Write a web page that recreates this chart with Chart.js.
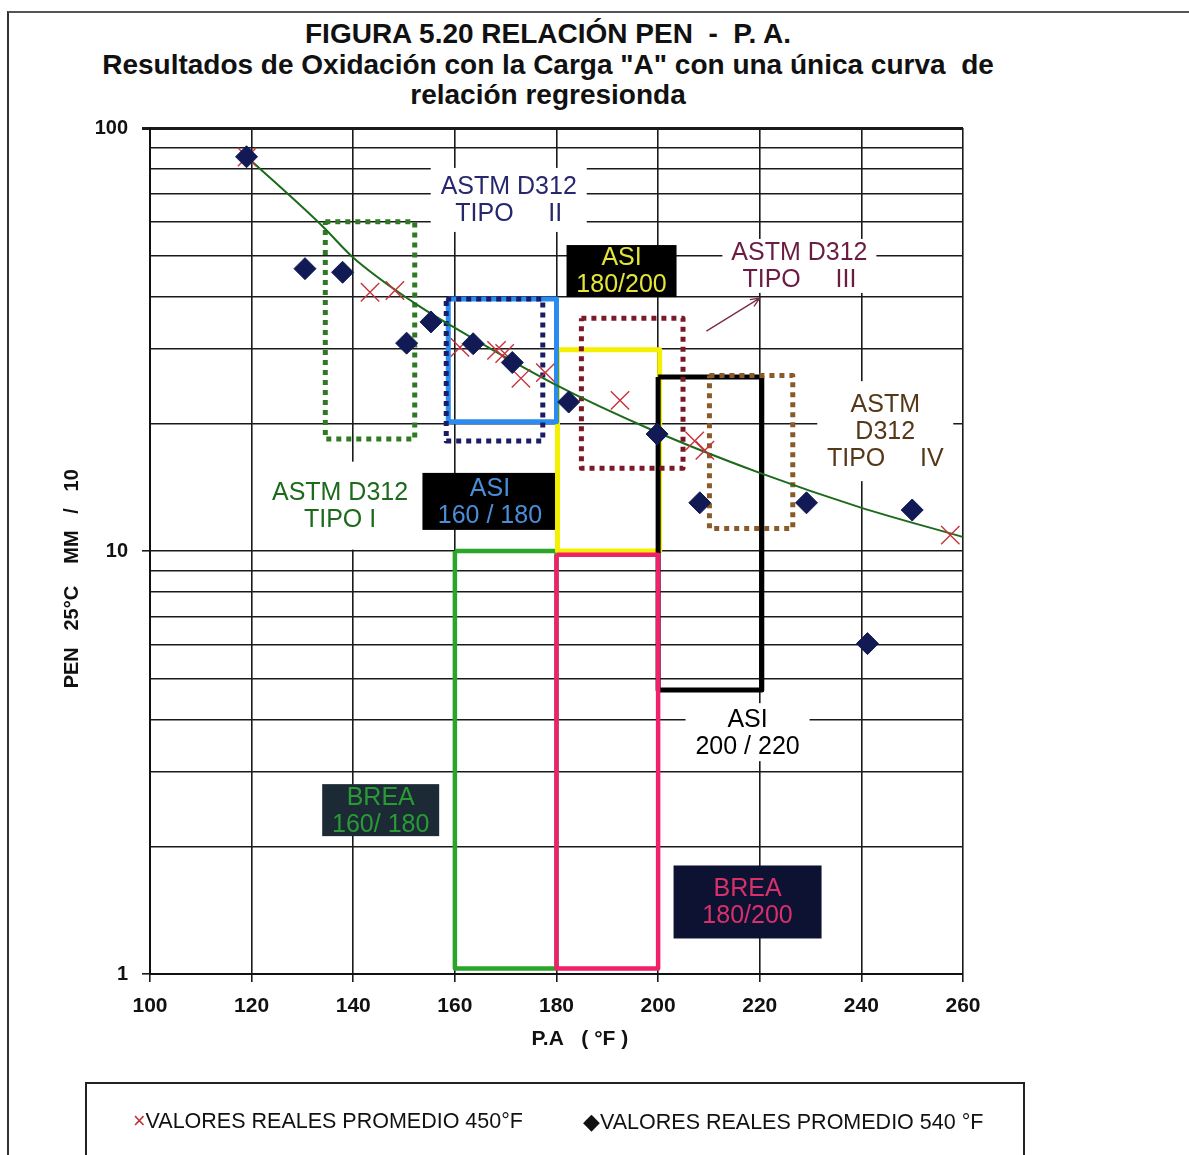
<!DOCTYPE html>
<html lang="es">
<head>
<meta charset="utf-8">
<title>Figura 5.20 Relación PEN - P.A.</title>
<script src="https://cdn.jsdelivr.net/npm/chart.js@4.4.1/dist/chart.umd.min.js"></script>
<style>
  html, body { margin: 0; padding: 0; background: #fff; }
  #wrap { position: relative; width: 1189px; height: 1155px; overflow: hidden; }
  #frame { position: absolute; left: 7px; top: 11px; width: 1300px; height: 1300px;
           border-left: 2px solid #333; border-top: 2px solid #555; }
  #title { position: absolute; left: 0; top: 19px; width: 1096px; text-align: center;
           font: bold 28px "Liberation Sans", Arial, sans-serif; line-height: 30.5px; color: #111; }
  #chart { position: absolute; left: 0; top: 0; }
  #legend { position: absolute; left: 85px; top: 1082px; width: 936px; height: 120px;
            border: 2px solid #222; font: 21.5px "Liberation Sans", Arial, sans-serif; color: #111; }
  #legend span { position: absolute; top: 25px; white-space: nowrap; }
  .mk-x { color: #c0303a; }
</style>
</head>
<body>
<div id="wrap">
  <div id="frame"></div>
  <div id="title">FIGURA 5.20 RELACIÓN PEN&nbsp; - &nbsp;P. A.<br>Resultados de Oxidación con la Carga "A" con una única curva&nbsp; de<br>relación regresionda</div>
  <canvas id="chart" width="1189" height="1155"></canvas>
  <div id="legend">
    <span style="left:46px"><span class="mk-x" style="position:static">×</span>VALORES REALES PROMEDIO 450°F</span>
    <span style="left:496px">◆VALORES REALES PROMEDIO 540 °F</span>
  </div>
</div>
<script>
"use strict";

// ----- data ---------------------------------------------------------------- //
const Y_TICKS = [1, 2, 3, 4, 5, 6, 7, 8, 9, 10, 20, 30, 40, 50, 60, 70, 80, 90, 100];
const Y_LABELED = [1, 10, 100];

// valores reales promedio 450°F (crosses)
const CROSS_X = [119.1, 143.3, 148.2, 161.0, 168.2, 169.8, 173.0, 177.8, 192.5, 207.2, 209.2, 257.5];
const CROSS_Y = [85.4, 40.9, 41.3, 30.3, 29.8, 29.3, 25.6, 26.4, 22.7, 18.2, 17.3, 10.9];

// valores reales promedio 540°F (diamonds)
const DIAMOND_X = [119.0, 130.5, 137.9, 150.5, 155.3, 163.6, 171.3, 182.4, 199.8, 208.2, 229.2, 241.2, 250.0];
const DIAMOND_Y = [85.5, 46.5, 45.6, 31.0, 34.8, 30.9, 27.9, 22.5, 18.9, 13.0, 13.0, 6.04, 12.5];

// curva de regresión única
const CURVE_X = [119.1, 134.0, 139.9, 151.7, 159.6, 179.3, 198.9, 220.0, 239.6, 259.9];
const CURVE_Y = [85.4, 58.5, 49.5, 38.8, 33.9, 24.9, 19.3, 15.3, 12.7, 10.8];

// spec boxes: [x from, x to, PEN low, PEN high]
const BOX_ASTM_I   = [134.5, 152.1, 18.4, 60.0];
const BOX_ASTM_II  = [158.3, 177.3, 18.2, 39.4];
const BOX_ASTM_III = [184.9, 204.9, 15.7, 35.5];
const BOX_ASTM_IV  = [210.1, 226.5, 11.3, 26.0];
const BOX_ASI_160  = [158.7, 180.0, 20.2, 39.4];
const BOX_ASI_180  = [180.2, 200.3, 10.0, 29.9];
const BOX_ASI_200  = [200.0, 220.4, 4.69, 25.8];
const BOX_BREA_160 = [160.0, 180.0, 1.03, 10.0];
const BOX_BREA_180 = [180.0, 200.0, 1.03, 9.8];

// ----- helpers ------------------------------------------------------------- //
const FONT = '"Liberation Sans", Arial, sans-serif';

function points(xs, ys) {
  return xs.map((x, i) => ({ x, y: ys[i] }));
}

function rectPath(b) {
  const [x0, x1, y0, y1] = b;
  return [{ x: x0, y: y1 }, { x: x1, y: y1 }, { x: x1, y: y0 }, { x: x0, y: y0 }, { x: x0, y: y1 }];
}

function boxSet(b, color, width, dotted) {
  return {
    data: rectPath(b),
    showLine: true,
    pointRadius: 0,
    borderColor: color,
    borderWidth: width,
    borderDash: dotted ? [5, 5] : [],
    borderJoinStyle: "round",
    fill: false,
  };
}

// text boxes anchored in data units (x, PEN); w/h in pixels
const LABELS = [
  { text: ["ASTM D312", "TIPO     II"], x: 170.6, y: 67.6, w: 156, h: 64, color: "#27286c", bg: "#fff" },
  { text: ["ASI", "180/200"], x: 192.8, y: 45.9, w: 110, h: 52, color: "#e4e43a", bg: "#000" },
  { text: ["ASTM D312", "TIPO     III"], x: 227.8, y: 47.2, w: 154, h: 54, color: "#6a1c42", bg: "#fff" },
  { text: ["ASTM", "D312", "TIPO     IV"], x: 244.7, y: 19.2, w: 136, h: 100, color: "#553818", bg: "#fff" },
  { text: ["ASTM D312", "TIPO I"], x: 137.4, y: 12.8, w: 152, h: 88, color: "#1d6a1d", bg: "#fff" },
  { text: ["ASI", "160 / 180"], x: 166.9, y: 13.1, w: 135, h: 57, color: "#4a8ed8", bg: "#000" },
  { text: ["ASI", "200 / 220"], x: 217.6, y: 3.73, w: 124, h: 58, color: "#000", bg: "#fff" },
  { text: ["BREA", "160/ 180"], x: 145.4, y: 2.44, w: 117, h: 52, color: "#2a9a35", bg: "#1c2a36" },
  { text: ["BREA", "180/200"], x: 217.6, y: 1.48, w: 148, h: 73, color: "#d8306a", bg: "#0e1232" },
];

const labelPlugin = {
  id: "boxLabels",
  beforeDatasetsDraw(chart) {
    const { ctx, scales: { x, y } } = chart;
    ctx.save();
    ctx.font = "25px " + FONT;
    ctx.textAlign = "center";
    ctx.textBaseline = "middle";
    for (const l of LABELS) {
      const cx = x.getPixelForValue(l.x);
      const cy = y.getPixelForValue(l.y);
      ctx.fillStyle = l.bg;
      ctx.fillRect(cx - l.w / 2, cy - l.h / 2, l.w, l.h);
      ctx.fillStyle = l.color;
      l.text.forEach((t, i) => ctx.fillText(t, cx, cy + (i - (l.text.length - 1) / 2) * 27 + 1));
    }
    ctx.restore();
  },
  afterDatasetsDraw(chart) {
    // arrow pointing to ASTM D312 TIPO III
    const { ctx, scales: { x, y } } = chart;
    const x0 = x.getPixelForValue(209.5), y0 = y.getPixelForValue(33.1);
    const x1 = x.getPixelForValue(220.0), y1 = y.getPixelForValue(39.6);
    const a = Math.atan2(y1 - y0, x1 - x0);
    ctx.save();
    ctx.strokeStyle = "#7a2a4a";
    ctx.lineWidth = 1.3;
    ctx.beginPath();
    ctx.moveTo(x0, y0); ctx.lineTo(x1, y1);
    ctx.moveTo(x1 - 10 * Math.cos(a - 0.4), y1 - 10 * Math.sin(a - 0.4));
    ctx.lineTo(x1, y1);
    ctx.lineTo(x1 - 10 * Math.cos(a + 0.4), y1 - 10 * Math.sin(a + 0.4));
    ctx.stroke();
    ctx.restore();
  },
};

// ----- chart --------------------------------------------------------------- //
// bottom-most first
const layers = [
  boxSet(BOX_BREA_160, "#2aa52a", 4.5, false),
  boxSet(BOX_ASI_180, "#f4f000", 5, false),
  boxSet(BOX_ASI_160, "#2a8cf0", 5, false),
  boxSet(BOX_ASI_200, "#000", 5, false),
  boxSet(BOX_BREA_180, "#f0206a", 4.5, false),
  boxSet(BOX_ASTM_I, "#2e7a22", 5, true),
  boxSet(BOX_ASTM_II, "#1a1c68", 5, true),
  boxSet(BOX_ASTM_III, "#7a1a28", 5, true),
  boxSet(BOX_ASTM_IV, "#8a5a2a", 5, true),
  {
    data: points(CURVE_X, CURVE_Y),
    showLine: true,
    pointRadius: 0,
    borderColor: "#1b6b1b",
    borderWidth: 2,
    cubicInterpolationMode: "monotone",
  },
  {
    label: "VALORES REALES PROMEDIO 450°F",
    data: points(CROSS_X, CROSS_Y),
    pointStyle: "crossRot",
    pointRadius: 13,
    borderColor: "#c8323c",
    borderWidth: 1.4,
  },
  {
    label: "VALORES REALES PROMEDIO 540 °F",
    data: points(DIAMOND_X, DIAMOND_Y),
    pointStyle: "rectRot",
    pointRadius: 11,
    backgroundColor: "#111a55",
    borderColor: "#111a55",
    borderWidth: 1,
  },
];
layers.forEach((d, i) => { d.order = layers.length - i; });

Chart.defaults.font.family = FONT;
Chart.defaults.color = "#111";

new Chart(document.getElementById("chart"), {
  type: "scatter",
  data: { datasets: layers },
  plugins: [labelPlugin],
  options: {
    responsive: false,
    animation: false,
    events: [],
    layout: { padding: { left: 55, right: 226, top: 128, bottom: 101 } },
    plugins: { legend: { display: false }, tooltip: { enabled: false } },
    scales: {
      x: {
        type: "linear",
        min: 100,
        max: 260,
        afterFit: s => { s.height = 80; },
        ticks: { stepSize: 20, font: { size: 21, weight: "bold" }, padding: 12, color: "#111" },
        grid: { color: "#1a1a1a", lineWidth: 1.6, tickLength: 8, tickColor: "#1a1a1a" },
        border: { color: "#111", width: 2 },
        title: { display: true, text: "        P.A   ( °F )", font: { size: 21, weight: "bold" },
                 padding: { top: 0, bottom: 2 }, color: "#111" },
      },
      y: {
        type: "logarithmic",
        min: 1,
        max: 100,
        afterFit: s => { s.width = 95; },
        afterBuildTicks: s => { s.ticks = Y_TICKS.map(v => ({ value: v })); },
        ticks: {
          autoSkip: false,
          font: { size: 20, weight: "bold" },
          padding: 14,
          color: "#111",
          callback: v => (Y_LABELED.includes(v) ? String(v) : ""),
        },
        grid: {
          color: "#1a1a1a",
          lineWidth: ctx => (ctx.tick && ctx.tick.value === 100 ? 3 : 1.6),
          tickLength: 8,
          tickColor: ctx => (ctx.tick && Y_LABELED.includes(ctx.tick.value) ? "#1a1a1a" : "rgba(0,0,0,0)"),
        },
        border: { color: "#111", width: 2 },
        title: { display: true, text: "PEN   25°C    MM   /   10          ", font: { size: 20, weight: "bold" },
                 padding: { top: 5, bottom: 0 }, color: "#111" },
      },
    },
  },
});
</script>
</body>
</html>
